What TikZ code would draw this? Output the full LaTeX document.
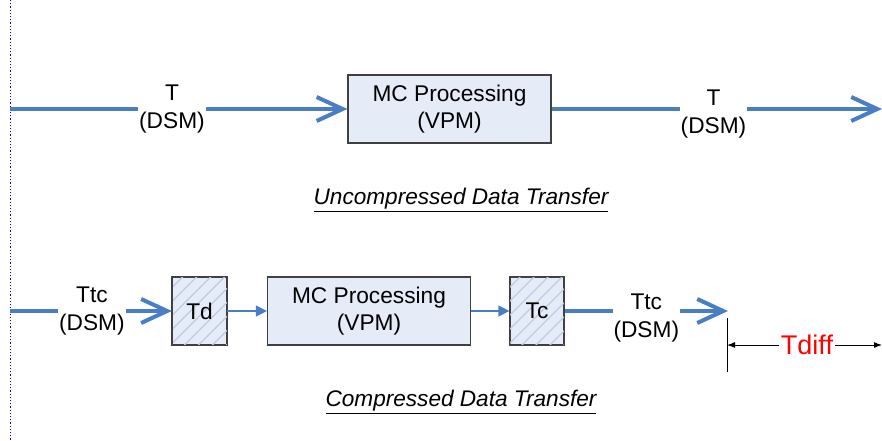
\documentclass[tikz,border=0pt]{standalone}
\usepackage{fontspec}
\setmainfont{Liberation Sans}
\usetikzlibrary{arrows.meta}
\definecolor{flow}{HTML}{4A7EC4}
\definecolor{boxfill}{HTML}{E6ECF7}
\definecolor{boxline}{HTML}{404040}
\definecolor{hatch}{HTML}{BDCCE4}
\begin{document}
\begin{tikzpicture}[x=1pt,y=-1pt,
  every node/.style={font=\fontsize{22.7}{27.5}\selectfont},
  flowline/.style={draw=flow,line width=4pt,
    -{Straight Barb[length=26pt,width=24pt,line width=4pt]}},
  thinflow/.style={draw=flow,line width=1.3pt,
    -{Triangle[length=11pt,width=11pt]}},
  procbox/.style={draw=boxline,line width=1.2pt,fill=boxfill,
    minimum width=203pt,minimum height=68pt,inner sep=0pt,align=center},
  codecbox/.style={draw=boxline,line width=1.2pt,fill=boxfill,
    minimum width=54pt,minimum height=68pt,inner sep=0pt},
  lbl/.style={fill=white,align=center,inner sep=1pt},
  caption/.style={font=\fontsize{22.6}{26}\selectfont\itshape}]
\useasboundingbox (0,0) rectangle (882,440);
\clip (0,0) rectangle (882,440);

% time reference
\draw[blue,dotted,line width=1.2pt] (10.5,0) -- (10.5,440);

% ---------- uncompressed path ----------
\coordinate (uin) at (10,109);
\coordinate (uout) at (882,109);
\node[procbox] (mc1) at (449.5,109) {MC Processing\\(VPM)};
\draw[flowline] (uin) -- (mc1.west)
  node[lbl,pos=0.48] {T\\(DSM)};
\draw[flowline] (mc1.east) -- (uout)
  node[lbl,pos=0.49,yshift=-5pt] {T\\(DSM)};
\node[caption] (cap1) at (461,200) {\underline{Uncompressed Data Transfer}};

% ---------- compressed path ----------
\coordinate (cin) at (10,311);
\node[codecbox] (td) at (199.5,311) {};
\node[procbox] (mc2) at (369,311) {MC Processing\\(VPM)};
\node[codecbox] (tc) at (537,311) {};
\coordinate (cout) at (728,311);

% hatching of the codec boxes
\foreach \b in {td,tc}{
  \begin{scope}
    \clip (\b.south west) rectangle (\b.north east);
    \foreach \k in {-100,-86,...,100}
      \draw[hatch,line width=1.2pt] ([xshift=\k pt]\b.south west) -- ++(80,-80);
  \end{scope}
  \draw[boxline,line width=1.2pt] (\b.south west) rectangle (\b.north east);
}
\node at (td) {Td};
\node at (tc) {Tc};

\draw[flowline] (cin) -- (td.west)
  node[lbl,pos=0.506] {Ttc\\(DSM)};
\draw[thinflow] (td.east) -- (mc2.west);
\draw[thinflow] (mc2.east) -- (tc.west);
\draw[flowline] (tc.east) -- (cout)
  node[lbl,pos=0.5,yshift=-7pt] {Ttc\\(DSM)};
\node[caption] (cap2) at (461,402) {\underline{Compressed Data Transfer}};

% ---------- time difference ----------
\coordinate (dtop) at (727,318);
\coordinate (dbot) at (727,372);
\coordinate (dl) at (727,345);
\coordinate (dr) at (882,345);
\draw[black,line width=1pt] (dtop) -- (dbot);
\draw[black,line width=1pt,{Latex[length=8pt,width=6pt]}-{Latex[length=8pt,width=6pt]}]
  (dl) -- (dr)
  node[pos=0.516,fill=white,inner sep=2pt,text=red,font=\fontsize{27}{30}\selectfont] {Tdiff};
\end{tikzpicture}
\end{document}
